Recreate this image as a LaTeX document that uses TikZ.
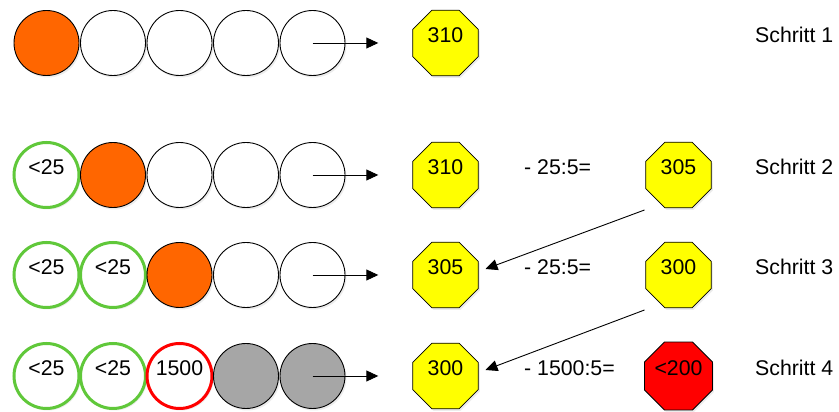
\documentclass[tikz,border=0pt]{standalone}
\usepackage{fontspec}
\setmainfont{Liberation Sans}
\usepackage{xcolor}
\usetikzlibrary{shapes.geometric,arrows.meta,shadows}
\definecolor{ballorange}{RGB}{255,102,0}
\definecolor{okgreen}{RGB}{96,200,58}
\definecolor{badred}{RGB}{255,0,0}
\definecolor{ballgray}{RGB}{166,166,166}
\definecolor{octyellow}{RGB}{255,255,0}

\begin{document}
\begin{tikzpicture}[x=1pt,y=1pt,
	font=\fontsize{21.3}{25}\selectfont,
	txt/.style={text height=15pt,text depth=15pt,inner sep=0pt},
	ball/.style={circle,draw=black,line width=0.9pt,fill=white,minimum size=65pt,txt,
		drop shadow={opacity=0.15,shadow xshift=1.5pt,shadow yshift=-2pt}},
	ok/.style={ball,draw=okgreen,line width=3pt},
	bad/.style={ball,draw=badred,line width=3pt},
	oct/.style={regular polygon,regular polygon sides=8,minimum size=71pt,draw=black,
		line width=0.8pt,fill=octyellow,txt,
		drop shadow={opacity=0.15,shadow xshift=1.5pt,shadow yshift=-2pt}},
	flow/.style={-{Triangle[length=12pt,width=11pt]},line width=0.9pt,shorten >=34pt}]
	\fill[white] (0,0) rectangle (839,412);
	\useasboundingbox (0,0) rectangle (839,412);

	\node[ball,fill=ballorange] (r1-c1) at (46.5,369) {};
	\foreach \i in {2,...,5}
	{
		\node[ball] (r1-c\i) at (46.5+66.5*\i-66.5,369) {};
	}
	\node[oct] (o1a) at (445.5,369) {310};
	\node[txt,anchor=west] (s1) at (755,369) {Schritt 1};

	\node[ok] (r2-c1) at (46.5,237) {<25};
	\node[ball,fill=ballorange] (r2-c2) at (113,237) {};
	\foreach \i in {3,...,5}
	{
		\node[ball] (r2-c\i) at (46.5+66.5*\i-66.5,237) {};
	}
	\node[oct] (o2a) at (445.5,237) {310};
	\node[txt,anchor=west] (m2) at (524,237) {- 25:5=};
	\node[oct] (o2b) at (678.5,237) {305};
	\node[txt,anchor=west] (s2) at (755,237) {Schritt 2};

	\node[ok] (r3-c1) at (46.5,137) {<25};
	\node[ok] (r3-c2) at (113,137) {<25};
	\node[ball,fill=ballorange] (r3-c3) at (179.5,137) {};
	\node[ball] (r3-c4) at (246,137) {};
	\node[ball] (r3-c5) at (312.5,137) {};
	\node[oct] (o3a) at (445.5,137) {305};
	\node[txt,anchor=west] (m3) at (524,137) {- 25:5=};
	\node[oct] (o3b) at (678.5,137) {300};
	\node[txt,anchor=west] (s3) at (755,137) {Schritt 3};

	\node[ok] (r4-c1) at (46.5,36) {<25};
	\node[ok] (r4-c2) at (113,36) {<25};
	\node[bad] (r4-c3) at (179.5,36) {1500};
	\node[ball,fill=ballgray] (r4-c4) at (246,36) {};
	\node[ball,fill=ballgray] (r4-c5) at (312.5,36) {};
	\node[oct] (o4a) at (445.5,36) {300};
	\node[txt,anchor=west] (m4) at (524,36) {- 1500:5=};
	\node[oct,fill=badred] (o4b) at (678.5,36) {<200};
	\node[txt,anchor=west] (s4) at (755,36) {Schritt 4};

	\foreach \r in {1,...,4}
	{
		\draw[flow] (r\r-c5.center) -- (o\r a);
	}
	\draw[flow,shorten >=0pt] ([shift={(-34,-35)}]o2b.center) -- ([shift={(40,6)}]o3a.center);
	\draw[flow,shorten >=0pt] ([shift={(-34,-35)}]o3b.center) -- ([shift={(40,6)}]o4a.center);
\end{tikzpicture}
\end{document}
